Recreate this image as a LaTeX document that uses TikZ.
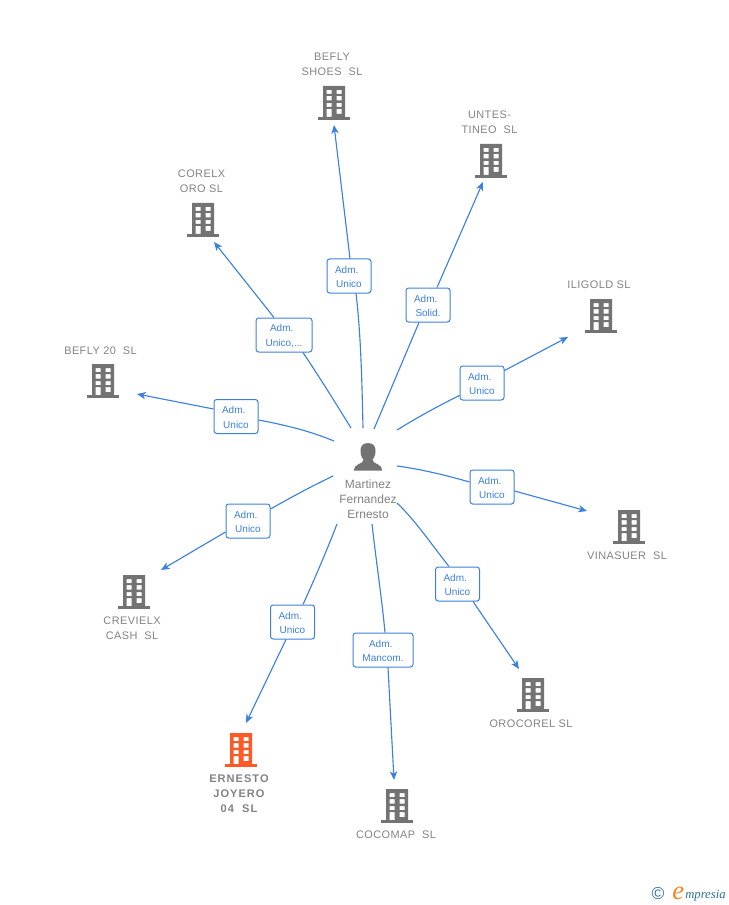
\documentclass[tikz,border=0pt]{standalone}
\usepackage{fontspec}
\setmainfont{Liberation Sans}
\newfontfamily\bldfont[LetterSpace=4]{Liberation Sans}
\newfontfamily\hotfont[LetterSpace=9]{Liberation Sans}
\newfontfamily\logofont{Liberation Serif}
\usetikzlibrary{arrows.meta,calc}
\definecolor{linkblue}{HTML}{3C80E0}
\definecolor{bgray}{HTML}{737373}
\definecolor{tgray}{HTML}{828282}
\definecolor{hot}{HTML}{FF5A26}
\definecolor{logoteal}{HTML}{2E6E8E}
\definecolor{logoorange}{HTML}{F58220}
\newcommand{\admline}{\rule{0pt}{6.6pt}Adm.\hspace*{3.4pt}}
\tikzset{
  x=0.75pt,y=-0.75pt,
  link/.style={draw=linkblue,line width=0.85pt},
  tip/.style={link,-{Stealth[length=6.5pt,width=5.5pt,inset=1.8pt]}},
  rolebox/.style={draw=linkblue,line width=0.75pt,rounded corners=2pt,fill=white,text=linkblue,
    font=\fontsize{7.5pt}{11pt}\selectfont,align=center,inner sep=0pt,minimum height=25.5pt},
  bname/.style={text=tgray,font=\bldfont\fontsize{8.2pt}{11.2pt}\selectfont,align=center,inner sep=0pt},
  pics/bld/.style={code={
    \fill[#1,even odd rule] (-11,-17) rectangle (11,14)
      (-7.5,-13) rectangle (-2.5,-9) (2.5,-13) rectangle (7.5,-9)
      (-7.5,-7) rectangle (-2.5,-2.5) (2.5,-7) rectangle (7.5,-2.5)
      (-7.5,0) rectangle (-2.5,4) (2.5,0) rectangle (7.5,4)
      (-7.5,6) rectangle (-2.5,14) (2.5,6) rectangle (7.5,11);
    \fill[#1] (-16,14) rectangle (16,17);
  }},
}
\begin{document}
\begin{tikzpicture}
\useasboundingbox (0,0) rectangle (728,905);
% person
\node[inner sep=0pt,minimum width=28pt,minimum height=27pt] (person) at (368,457) {};
\fill[bgray] (368,443) .. controls (361.5,443) and (360,448) .. (360.5,452)
  .. controls (361,456) and (362,458) .. (363.5,460)
  .. controls (363.5,462) and (361,463) .. (358,464.5)
  .. controls (355,466) and (354.5,467) .. (354,470.5) -- (382,470.5)
  .. controls (381.5,467) and (381,466) .. (378,464.5)
  .. controls (375,463) and (372.5,462) .. (372.5,460)
  .. controls (374,458) and (375,456) .. (375.5,452)
  .. controls (376,448) and (374.5,443) .. (368,443) -- cycle;
\node[text=tgray,font=\fontsize{9pt}{11.3pt}\selectfont,align=center,inner sep=0pt] (pname) at (368,499) {Martinez\\Fernandez\\Ernesto};
% buildings
\pic at (334,103) {bld=bgray};
\pic at (491,161) {bld=bgray};
\pic at (203,220) {bld=bgray};
\pic at (601,316) {bld=bgray};
\pic at (103,381) {bld=bgray};
\pic at (629,527) {bld=bgray};
\pic at (134,592) {bld=bgray};
\pic at (533,695) {bld=bgray};
\pic at (397,806) {bld=bgray};
\pic at (241,750) {bld=hot};
% building names
\node[bname] (n1) at (332,64.5) {BEFLY\\SHOES\ \ SL};
\node[bname] (n2) at (489.5,122.5) {UNTES-\\TINEO\ \ SL};
\node[bname] (n3) at (201.5,181.5) {CORELX\\ORO SL};
\node[bname] (n4) at (599,285) {ILIGOLD SL};
\node[bname] (n5) at (100.5,351) {BEFLY 20\ \ SL};
\node[bname] (n6) at (627,556) {VINASUER\ \ SL};
\node[bname] (n7) at (132,628) {CREVIELX\\CASH\ \ SL};
\node[bname] (n8) at (531,724) {OROCOREL SL};
\node[bname] (n9) at (396,835) {COCOMAP\ \ SL};
\node[bname,font=\hotfont\bfseries\fontsize{8.3pt}{11.2pt}\selectfont] (n10) at (239,794) {ERNESTO\\JOYERO\\04\ \ SL};
% role labels
\node[rolebox,minimum width=33pt] (r1) at (349,276) {\admline\\Unico};
\node[rolebox,minimum width=33pt] (r2) at (428,305) {\admline\\Solid.};
\node[rolebox,minimum width=42pt] (r3) at (284,335) {\admline\\Unico,...};
\node[rolebox,minimum width=33pt] (r4) at (482,383) {\admline\\Unico};
\node[rolebox,minimum width=33pt] (r5) at (236,416.5) {\admline\\Unico};
\node[rolebox,minimum width=33pt] (r6) at (492,487) {\admline\\Unico};
\node[rolebox,minimum width=33pt] (r7) at (248,521) {\admline\\Unico};
\node[rolebox,minimum width=33pt] (r8) at (457.5,584) {\admline\\Unico};
\node[rolebox,minimum width=33pt] (r9) at (292.5,622) {\admline\\Unico};
\node[rolebox,minimum width=45pt] (r10) at (383,650) {\admline\\Mancom.};
% free ends
\coordinate (s1) at (363,428); \coordinate (t1) at (334,125);
\coordinate (s2) at (374,429); \coordinate (t2) at (483,182);
\coordinate (s3) at (351,428); \coordinate (t3) at (214,242);
\coordinate (s4) at (397,430); \coordinate (t4) at (568,337);
\coordinate (s5) at (334,441); \coordinate (t5) at (137,394);
\coordinate (s6) at (397,466); \coordinate (t6) at (587,511);
\coordinate (s7) at (333,476); \coordinate (t7) at (161,570);
\coordinate (s8) at (397,503); \coordinate (t8) at (519,669);
\coordinate (s9) at (372,524); \coordinate (t9) at (394,780);
\coordinate (s10) at (337,524); \coordinate (t10) at (246,723);
% connectors
\draw[link] (s1) .. controls (362,385) and (361,335) .. ($(r1.south)+(7,0)$);
\draw[tip] ($(r1.north)+(1,0)$) -- (t1);
\draw[link] (s2) -- ($(r2.south)+(-9,0)$);
\draw[tip] ($(r2.north)+(9,0)$) -- (t2);
\draw[link] (s3) .. controls (335,402) and (320,378) .. ($(r3.south)+(19,0)$);
\draw[tip] ($(r3.north)+(-10,0)$) -- (t3);
\draw[link] (s4) .. controls (418,417) and (440,405) .. ($(r4.south west)+(0,-5)$);
\draw[tip] ($(r4.north east)+(0,5)$) -- (t4);
\draw[link] (s5) .. controls (310,431) and (285,425) .. ($(r5.east)+(0,3.5)$);
\draw[tip] ($(r5.west)+(0,-7.5)$) -- (t5);
\draw[link] (s6) .. controls (420,469) and (445,475) .. ($(r6.west)+(0,-5)$);
\draw[tip] ($(r6.east)+(0,4)$) -- (t6);
\draw[link] (s7) .. controls (310,487) and (290,498) .. ($(r7.east)+(0,-12)$);
\draw[tip] ($(r7.west)+(0,11)$) -- (t7);
\draw[link] (s8) .. controls (415,520) and (432,545) .. ($(r8.north)+(-8.5,0)$);
\draw[tip] ($(r8.south)+(15.5,0)$) -- (t8);
\draw[link] (s9) .. controls (376,560) and (382,600) .. ($(r10.north)+(2,0)$);
\draw[tip] ($(r10.south)+(5,0)$) -- (t9);
\draw[link] (s10) .. controls (327,550) and (315,578) .. ($(r9.north)+(10.5,0)$);
\draw[tip] ($(r9.south)+(-6.5,0)$) -- (t10);
% logo
\node[inner sep=0pt,anchor=center,text=logoteal,font=\fontsize{13pt}{13pt}\selectfont] (c) at (658,894) {©};
\node[inner sep=0pt,anchor=base west,text=logoorange,font=\logofont\itshape\fontsize{20pt}{20pt}\selectfont] (e) at (672,899) {e};
\node[inner sep=0pt,anchor=base west,text=logoteal,font=\logofont\itshape\fontsize{9.5pt}{10pt}\selectfont] (m) at (685,898) {mpresia};
\end{tikzpicture}
\end{document}
